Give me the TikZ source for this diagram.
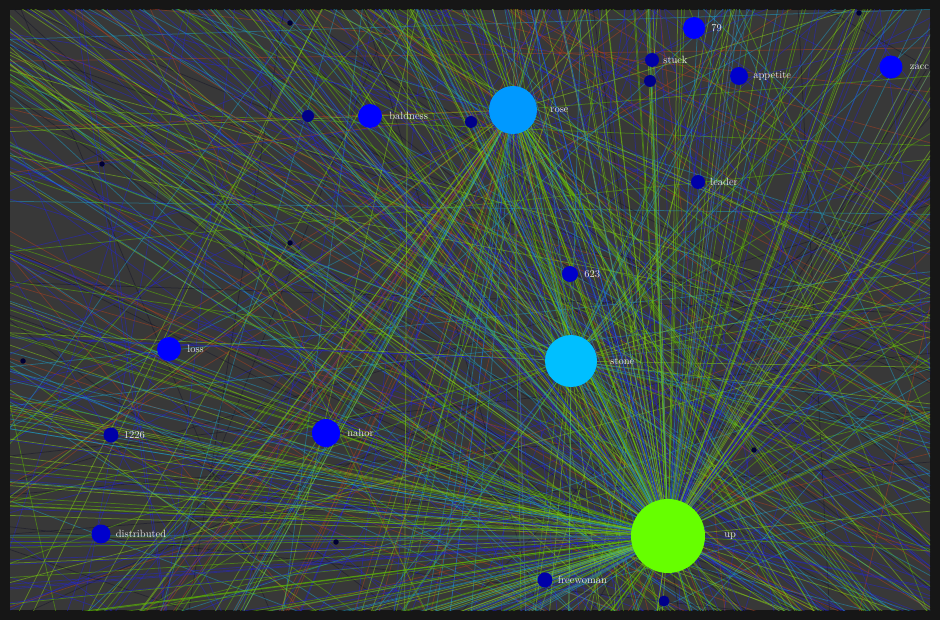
\documentclass[tikz,border=0pt]{standalone}
\usetikzlibrary{positioning}
\definecolor{frameCol}{HTML}{161616}
\definecolor{canvasCol}{HTML}{383838}
\definecolor{lnGreen}{HTML}{5FC000}
\definecolor{lnLime}{HTML}{8AD614}
\definecolor{lnBlue}{HTML}{2424D8}
\definecolor{lnTeal}{HTML}{1E9FC8}
\definecolor{lnRed}{HTML}{B0401E}
\definecolor{lnDark}{HTML}{14142A}
\definecolor{upCol}{HTML}{66FF00}
\definecolor{stoneCol}{HTML}{00BFFF}
\definecolor{roseCol}{HTML}{0099FF}
\definecolor{bigCol}{HTML}{0000FF}
\definecolor{midCol}{HTML}{0000CC}
\definecolor{smallCol}{HTML}{0000A8}
\definecolor{dotCol}{HTML}{00008A}
\definecolor{tinyCol}{HTML}{000033}
\definecolor{labCol}{HTML}{E6E6E6}

\begin{document}
\begin{tikzpicture}
	[x=1pt,y=-1pt,
	 vertex/.style={circle,inner sep=0pt,fill=#1},
	 edge/.style={line width=0.75pt,draw opacity=0.5},
	 lab/.style={inner sep=0pt,text=labCol,font=\fontsize{10.5}{12}\selectfont}]
	\fill[frameCol] (0,0) rectangle (940,620);
	\fill[canvasCol] (10,10) rectangle (930,610);
	% node centres
	\coordinate (pUp) at (668,536);
	\coordinate (pStone) at (571,361);
	\coordinate (pRose) at (513,110);
	\begin{scope}
	\clip (10,10) rectangle (930,610);
	\pgfmathsetseed{4217}
	% background edges to nodes off the canvas
	\foreach \i in {1,...,260}{
		\pgfmathsetmacro\px{10+rnd*920}
		\pgfmathsetmacro\py{10+rnd*600}
		\pgfmathsetmacro\ang{rnd<0.45 ? 15+rnd*30 : rnd*180}
		\pgfmathsetmacro\bng{\ang+180}
		\pgfmathparse{{"lnBlue","lnBlue","lnGreen","lnTeal","lnLime","lnDark","lnRed","lnBlue"}[int(rnd*8)]}
		\edef\col{\pgfmathresult}
		\draw[edge,draw=\col] (\px,\py) +(\ang:1200) -- +(\bng:1200);
	}
	% edges of rose
	\foreach \i in {1,...,90}{
		\pgfmathsetmacro\ang{rnd<0.6 ? 50+rnd*80 : rnd*360}
		\pgfmathparse{{"lnGreen","lnTeal","lnBlue","lnLime","lnRed"}[int(rnd*5)]}
		\edef\col{\pgfmathresult}
		\draw[edge,draw=\col] (pRose) -- ++(\ang:1300);
	}
	% edges of stone
	\foreach \i in {1,...,70}{
		\pgfmathsetmacro\ang{rnd*360}
		\pgfmathparse{{"lnGreen","lnTeal","lnBlue","lnLime"}[int(rnd*4)]}
		\edef\col{\pgfmathresult}
		\draw[edge,draw=\col] (pStone) -- ++(\ang:1300);
	}
	% edges of up
	\foreach \i in {1,...,280}{
		\pgfmathsetmacro\ang{rnd<0.45 ? 215+rnd*95 : (rnd<0.55 ? 150+rnd*50 : rnd*360)}
		\pgfmathparse{{"lnGreen","lnLime","lnTeal","lnBlue","lnGreen","lnLime"}[int(rnd*6)]}
		\edef\col{\pgfmathresult}
		\draw[edge,draw=\col] (pUp) -- ++(\ang:1400);
	}
	% edges between visible nodes
	\draw[edge,draw=lnGreen] (pUp) -- (pRose);
	\draw[edge,draw=lnTeal] (pUp) -- (pStone);
	\draw[edge,draw=lnTeal] (pStone) -- (pRose);
	% nodes
	\node[vertex=upCol,minimum size=74pt] (up) at (pUp) {};
	\node[vertex=stoneCol,minimum size=52pt] (stone) at (pStone) {};
	\node[vertex=roseCol,minimum size=48pt] (rose) at (pRose) {};
	\node[vertex=midCol,minimum size=16pt] (n623) at (570,274) {};
	\node[vertex=smallCol,minimum size=14pt] (leader) at (698,182) {};
	\node[vertex=bigCol,minimum size=22pt] (n79) at (694,28) {};
	\node[vertex=smallCol,minimum size=14pt] (stuck) at (652,60) {};
	\node[vertex=dotCol,minimum size=12pt] (d1) at (650,81) {};
	\node[vertex=midCol,minimum size=18pt] (appetite) at (739,76) {};
	\node[vertex=bigCol,minimum size=23pt] (zacc) at (891,67) {};
	\node[vertex=bigCol,minimum size=24pt] (baldness) at (370,116) {};
	\node[vertex=dotCol,minimum size=12pt] (d2) at (308,116) {};
	\node[vertex=dotCol,minimum size=12pt] (d3) at (471,122) {};
	\node[vertex=bigCol,minimum size=24pt] (loss) at (169,349) {};
	\node[vertex=smallCol,minimum size=15pt] (n1226) at (111,435) {};
	\node[vertex=bigCol,minimum size=28pt] (nahor) at (326,433) {};
	\node[vertex=midCol,minimum size=19pt] (distributed) at (101,534) {};
	\node[vertex=smallCol,minimum size=15pt] (freewoman) at (545,580) {};
	\node[vertex=dotCol,minimum size=11pt] (d4) at (664,601) {};
	\foreach \x/\y [count=\k] in {290/23,859/13,102/164,290/243,23/361,336/542,754/450}
		\node[vertex=tinyCol,minimum size=5.5pt] (t\k) at (\x,\y) {};
	% labels
	\node[lab] [right=19pt of up] {up};
	\node[lab] [right=13pt of stone] {stone};
	\node[lab] [right=13pt of rose] {rose};
	\node[lab] [right=6pt of n623] {623};
	\node[lab] [right=5pt of leader] {leader};
	\node[lab] [right=6pt of n79] {79};
	\node[lab] [right=4pt of stuck] {stuck};
	\node[lab] [right=5pt of appetite] {appetite};
	\node[lab] [right=7pt of zacc] {zacc};
	\node[lab] [right=7pt of baldness] {baldness};
	\node[lab] [right=6pt of loss] {loss};
	\node[lab] [right=5pt of n1226] {1226};
	\node[lab] [right=7pt of nahor] {nahor};
	\node[lab] [right=5pt of distributed] {distributed};
	\node[lab] [right=5pt of freewoman] {freewoman};
	\end{scope}
\end{tikzpicture}
\end{document}
